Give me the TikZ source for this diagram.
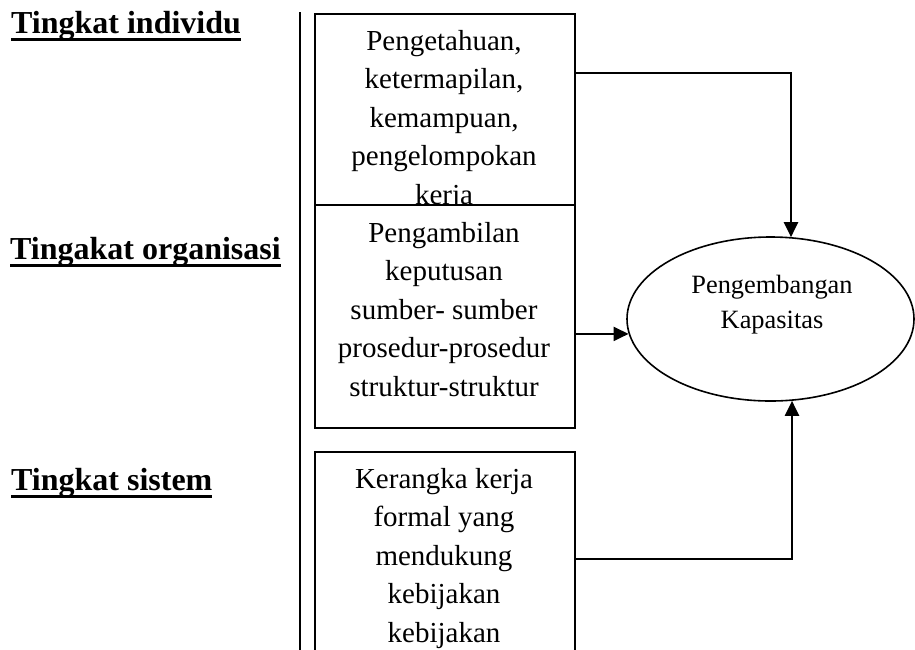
\documentclass[tikz,border=0pt]{standalone}
\usepackage{fontspec}
\setmainfont{Liberation Serif}
\usetikzlibrary{arrows.meta,shapes.geometric}
% bold heading with a thick rule under it
\newcommand\levelul[1]{\setbox0\hbox{#1}\rlap{\rule[-8pt]{\wd0}{3pt}}\box0}
\begin{document}
\begin{tikzpicture}[x=1pt,y=-1pt,
  level/.style={font=\fontsize{32}{38}\selectfont\bfseries, anchor=base west, inner sep=0pt},
  stagebox/.style={draw, line width=2.2pt, fill=white, minimum width=260pt, anchor=north west, inner sep=0pt},
  boxtxt/.style={font=\fontsize{29}{38.5}\selectfont, align=center, anchor=north, inner sep=0pt},
  link/.style={line width=2.2pt, -{Triangle[length=15pt,width=14pt]}}]
\useasboundingbox (0,0) rectangle (915,649);
\clip (0,0) rectangle (915,649);

% level headings
\node[level] (l1) at (11,33) {\levelul{Tingkat individu}};
\node[level] (l2) at (10,259) {\levelul{Tingakat organisasi}};
\node[level] (l3) at (11,490) {\levelul{Tingkat sistem}};

% divider
\coordinate (vtop) at (300,12);
\coordinate (vbot) at (300,660);
\draw[line width=2.2pt] (vtop) -- (vbot);

% stage boxes
\node[stagebox, minimum height=191pt] (b1) at (314,12.7) {};
\node[boxtxt] (t1) at (444,30) {\rule{0pt}{20pt}Pengetahuan,\\ketermapilan,\\kemampuan,\\pengelompokan\\kerja};
\node[stagebox, minimum height=223pt] (b2) at (314,204) {};
\node[boxtxt] (t2) at (444,222) {\rule{0pt}{20pt}Pengambilan\\keputusan\\sumber- sumber\\prosedur-prosedur\\struktur-struktur};
\node[stagebox, minimum height=250pt] (b3) at (314,451) {};
\node[boxtxt] (t3) at (444,468) {\rule{0pt}{20pt}Kerangka kerja\\formal yang\\mendukung\\kebijakan\\kebijakan};

% target
\node[draw, ellipse, line width=1.6pt, minimum width=287pt, minimum height=164pt, inner sep=0pt] (e) at (770.5,319) {};
\node[font=\fontsize{26.4}{35}\selectfont, align=center, anchor=north, inner sep=0pt] (et) at (772,274) {\rule{0pt}{19pt}Pengembangan\\Kapasitas};

% connectors
\coordinate (k1) at (791,73);
\draw[link] (b1.east |- k1) -- (k1) -- (k1 |- e.75.8);
\draw[link] (b2.east |- e.186.9) -- (e.186.9);
\coordinate (k3) at (792,559);
\draw[link] (b3.east |- k3) -- (k3) -- (k3 |- e.-75.5);
\end{tikzpicture}
\end{document}
